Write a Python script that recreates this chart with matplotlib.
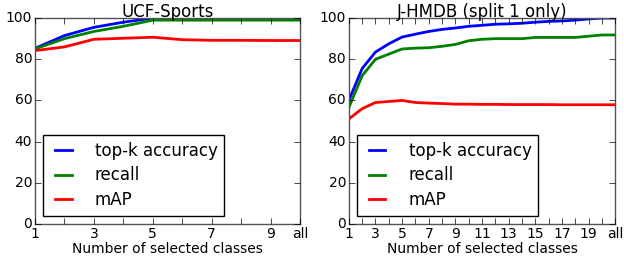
import matplotlib
matplotlib.use('Agg')
import matplotlib.pyplot as plt

plt.style.use('classic')
matplotlib.rcParams['font.family'] = 'DejaVu Sans'

# UCF-Sports
ucf_x = list(range(1, 11))
ucf_labels = ['1', '', '3', '', '5', '', '7', '', '9', 'all']
ucf_topk = [85.3, 91.5, 95.5, 98, 100, 100, 100, 100, 100, 100]
ucf_recall = [85, 90, 93.5, 96, 99, 99, 99, 99, 99, 99]
ucf_map = [84.2, 86, 89.7, 90.2, 90.7, 89.5, 89.2, 89.2, 89.1, 89.1]

# J-HMDB split 1
jh_x = list(range(1, 22))
jh_labels = ['1', '', '3', '', '5', '', '7', '', '9', '', '11', '', '13', '',
             '15', '', '17', '', '19', '', 'all']
jh_topk = [60, 75.5, 83.5, 87.5, 90.8, 92.2, 93.5, 94.5, 95.2, 96, 96.5,
           97, 97.2, 97.5, 98, 98.4, 98.6, 99, 99.6, 100, 100]
jh_recall = [56.5, 72, 80, 82.5, 85, 85.4, 85.6, 86.3, 87.2, 89, 89.7,
             90, 90, 90, 90.6, 90.6, 90.6, 90.6, 91.2, 91.8, 91.8]
jh_map = [51, 56, 59, 59.5, 60, 59, 58.7, 58.5, 58.2, 58.2, 58.1,
          58.1, 58, 58, 58, 58, 57.9, 57.9, 57.9, 57.9, 57.9]

fig = plt.figure(figsize=(6.24, 2.62), dpi=100, facecolor='white')
ax1 = fig.add_axes([0.056, 0.145, 0.425, 0.786])
ax2 = fig.add_axes([0.559, 0.145, 0.427, 0.786])

panels = [
    (ax1, 'UCF-Sports', ucf_x, ucf_labels, ucf_topk, ucf_recall, ucf_map),
    (ax2, 'J-HMDB (split 1 only)', jh_x, jh_labels, jh_topk, jh_recall, jh_map),
]

for ax, title, x, labels, topk, recall, mAP in panels:
    ax.plot(x, topk, color='b', lw=2, label='top-k accuracy')
    ax.plot(x, recall, color='g', lw=2, label='recall')
    ax.plot(x, mAP, color='r', lw=2, label='mAP')
    ax.set_xlim(x[0], x[-1])
    ax.set_ylim(0, 100)
    ax.set_xticks(x)
    ax.set_xticklabels(labels)
    ax.set_yticks(range(0, 101, 20))
    ax.tick_params(labelsize=10, direction='in', top=True, right=True, pad=2)
    ax.set_title(title, fontsize=12, pad=1)
    ax.set_xlabel('Number of selected classes', fontsize=10, labelpad=1)
    for s in ax.spines.values():
        s.set_color('#555555')
    ax.legend(loc='lower left', fontsize=12, handlelength=1.6,
              handletextpad=1.1, labelspacing=0.4, borderaxespad=0.5,
              fancybox=False, framealpha=1)

fig.savefig('out.png', dpi=100, facecolor='white')
